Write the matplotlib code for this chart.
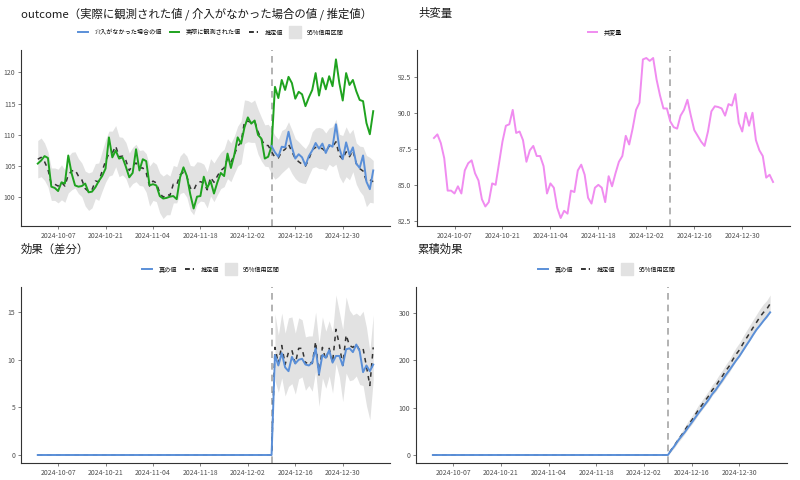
import numpy as np
import pandas as pd
import matplotlib
matplotlib.use("Agg")
import matplotlib.pyplot as plt
from matplotlib.lines import Line2D

plt.rcParams['font.family'] = ['Noto Sans CJK JP', 'DejaVu Sans']

# ---------------- data ----------------
start_date = "2024-10-01"
n_days = 100
intervention_date = "2024-12-09"

observed = [105.4, 105.9, 106.6, 106.3, 101.7, 101.5, 101.0, 102.4, 102.2, 106.7,
            103.8, 101.9, 101.7, 101.8, 102.2, 100.8, 100.9, 101.6, 102.6, 103.4,
            104.6, 109.6, 106.4, 107.5, 106.2, 106.4, 104.9, 103.2, 103.9, 107.7,
            104.3, 106.1, 105.8, 101.9, 102.1, 101.9, 100.2, 99.8, 99.9, 100.1,
            100.2, 99.7, 103.2, 104.8, 103.4, 100.5, 98.2, 100.1, 100.2, 103.3,
            101.5, 102.6, 100.6, 102.4, 103.9, 103.4, 107.0, 104.7, 106.8, 109.6,
            108.6, 111.2, 112.8, 111.8, 112.3, 110.0, 109.4, 106.2, 106.5, 108.2,
            117.7, 115.9, 118.8, 117.2, 119.3, 118.3, 115.8, 116.9, 116.5, 114.6,
            116.0, 117.2, 119.9, 116.3, 119.1, 117.3, 119.4, 117.8, 122.1, 118.3,
            115.5, 119.9, 118.0, 118.8, 117.0, 115.6, 115.4, 111.9, 110.1, 113.8]

# counterfactual (no intervention), from intervention date to end
counterfactual = [108.2, 107.2, 106.5, 108.1, 108.0, 110.5, 108.0, 106.2, 106.9, 106.4,
                  105.1, 106.6, 107.5, 108.7, 107.8, 108.6, 107.1, 108.4, 108.1, 111.7,
                  107.9, 106.1, 108.8, 106.8, 108.0, 105.4, 104.7, 106.7, 102.5, 101.3,
                  104.3]

estimate = [106.1, 106.4, 105.7, 104.5, 102.1, 102.1, 101.8, 102.4, 101.8, 103.6,
            104.2, 104.4, 103.4, 102.8, 101.4, 100.9, 101.2, 102.6, 102.5, 104.2,
            105.8, 107.0, 107.1, 108.2, 106.5, 106.6, 105.9, 104.3, 105.1, 105.5,
            104.7, 104.7, 103.9, 101.8, 102.6, 102.3, 100.7, 100.0, 100.5, 100.3,
            102.1, 102.0, 103.6, 104.0, 103.3, 101.5, 101.1, 102.3, 102.5, 102.3,
            101.2, 103.2, 102.4, 103.4, 104.3, 104.7, 106.2, 105.6, 106.8, 108.2,
            108.8, 112.1, 112.2, 112.0, 112.2, 110.5, 109.3, 108.3, 108.3, 107.3,
            106.4, 106.3, 107.3, 107.7, 108.5, 107.3, 106.2, 105.7, 105.3, 105.0,
            106.1, 107.6, 108.0, 107.9, 107.8, 107.3, 108.2, 108.1, 108.9, 106.7,
            106.1, 107.3, 106.5, 107.5, 105.4, 104.6, 104.2, 102.6, 102.8, 102.5]

ci_half = [3.0, 3.1, 3.0, 2.8, 2.6, 2.6, 2.7, 2.8, 2.6, 2.9,
           3.0, 2.9, 2.8, 2.7, 2.8, 3.0, 2.9, 2.8, 3.0, 3.2,
           3.4, 3.6, 3.5, 3.3, 3.2, 3.0, 2.9, 2.8, 2.9, 3.0,
           2.8, 2.9, 3.1, 3.2, 3.1, 3.0, 3.2, 3.4, 3.3, 3.1,
           3.0, 2.9, 3.0, 3.2, 3.3, 3.6, 3.9, 3.4, 3.1, 3.0,
           2.9, 3.0, 3.1, 3.0, 2.9, 3.0, 3.2, 3.1, 3.0, 3.2,
           3.4, 3.5, 3.3, 3.2, 3.4, 3.6, 3.5, 3.3, 3.4, 3.6,
           3.5, 3.0, 3.4, 3.3, 3.6, 3.5, 3.2, 3.2, 3.0, 2.8,
           2.6, 2.9, 3.1, 3.3, 3.2, 3.0, 2.9, 3.2, 3.6, 3.4,
           3.8, 4.0, 3.7, 3.4, 3.3, 3.6, 3.9, 4.1, 3.6, 3.4]

covariate = [88.25, 88.5, 87.9, 86.85, 84.6, 84.6, 84.4, 84.9, 84.4, 86.0,
             86.5, 86.7, 85.8, 85.3, 84.0, 83.5, 83.8, 85.1, 85.0, 86.5,
             88.0, 89.1, 89.2, 90.2, 88.6, 88.7, 88.1, 86.6, 87.4, 87.7,
             87.0, 87.0, 86.3, 84.4, 85.1, 84.8, 83.4, 82.7, 83.2, 83.0,
             84.6, 84.5, 86.0, 86.4, 85.7, 84.1, 83.7, 84.8, 85.0, 84.8,
             83.8, 85.6, 84.9, 85.8, 86.6, 87.0, 88.4, 87.8, 88.9, 90.2,
             90.7, 93.7, 93.8, 93.6, 93.8, 92.3, 91.2, 90.3, 90.3, 89.4,
             89.0, 88.9, 89.8, 90.2, 90.9, 89.8, 88.8, 88.4, 88.0, 87.7,
             88.7, 90.1, 90.45, 90.4, 90.3, 89.8, 90.6, 90.5, 91.3, 89.3,
             88.7, 90.0, 89.1, 90.0, 88.1, 87.4, 87.0, 85.5, 85.7, 85.2]

tick_dates = ["2024-10-07", "2024-10-21", "2024-11-04", "2024-11-18",
              "2024-12-02", "2024-12-16", "2024-12-30"]

# ---------------- derived ----------------
dates = pd.date_range(start_date, periods=n_days, freq="D")
t0 = pd.Timestamp(intervention_date)
i0 = int(np.where(dates == t0)[0][0])
obs = np.array(observed)
est = np.array(estimate)
half = np.array(ci_half)
cf = np.array(counterfactual)

post = np.arange(n_days) > i0
true_eff = np.zeros(n_days)
true_eff[i0:] = obs[i0:] - cf
est_eff = np.where(post, obs - est, 0.0)
eff_lo = obs - (est + half)
eff_hi = obs - (est - half)

true_cum = np.cumsum(true_eff)
est_cum = np.cumsum(est_eff)
cum_half = np.sqrt(np.cumsum(np.where(post, half ** 2, 0.0)))

# ---------------- style ----------------
BLUE = '#5a8fd8'
GREEN = '#1fa31f'
PINK = '#f08cf0'
DASH = '#333333'
BAND = '#e2e2e2'
VLINE = '#a6a6a6'

fig = plt.figure(figsize=(8, 4.8), dpi=100)
W, H = 800, 480


def make_ax(l, t, r, b):
    return fig.add_axes([l / W, 1 - b / H, (r - l) / W, (b - t) / H])


ax1 = make_ax(21, 50, 390, 226)
ax2 = make_ax(417, 50, 790, 226)
ax3 = make_ax(21, 287, 390, 463)
ax4 = make_ax(416, 287, 787, 463)

xt = pd.to_datetime(tick_dates)


def style(ax):
    for s in ['top', 'right']:
        ax.spines[s].set_visible(False)
    for s in ['left', 'bottom']:
        ax.spines[s].set_color('#333333')
        ax.spines[s].set_linewidth(0.8)
    ax.tick_params(axis='both', length=2, width=0.5, color='#4d4d4d',
                   labelsize=4.9, labelcolor='#4d4d4d', pad=2)
    ax.set_xticks(xt)
    ax.set_xticklabels([d.strftime('%Y-%m-%d') for d in xt])
    ax.margins(x=0.05)
    ax.axvline(t0, color=VLINE, lw=1.2, ls=(0, (4, 3)), zorder=1)


def box_handle():
    return Line2D([], [], marker='s', markersize=9, color=BAND, ls='none')


def legend(ax, handles, labels, x=0.515):
    ax.legend(handles, labels, loc='center', bbox_to_anchor=(x, 1.1),
              ncol=len(handles), frameon=False, fontsize=4.4,
              handlelength=1.5, handletextpad=1.1, columnspacing=1.3)


# panel 1
ax1.fill_between(dates, est - half, est + half, color=BAND, lw=0, zorder=0)
ax1.plot(dates, est, color=DASH, lw=1.1, ls=(0, (3, 3)), zorder=2)
ax1.plot(dates, obs, color=GREEN, lw=1.4, zorder=3)
ax1.plot(dates[i0:], cf, color=BLUE, lw=1.4, zorder=3)
style(ax1)
ax1.set_ylim(95.4, 123.6)
ax1.set_yticks([100, 105, 110, 115, 120])
legend(ax1,
       [Line2D([], [], color=BLUE, lw=1.4), Line2D([], [], color=GREEN, lw=1.4),
        Line2D([], [], color=DASH, lw=1.4, ls=(0, (2.5, 1.5))), box_handle()],
       ['介入がなかった場合の値', '実際に観測された値', '推定値', '95%信用区間'])

# panel 2
ax2.plot(dates, covariate, color=PINK, lw=1.4, zorder=3)
style(ax2)
ax2.set_yticks([82.5, 85.0, 87.5, 90.0, 92.5])
ax2.set_yticklabels(['82.5', '85.0', '87.5', '90.0', '92.5'])
legend(ax2, [Line2D([], [], color=PINK, lw=1.4)], ['共変量'], x=0.505)

# panel 3
ax3.fill_between(dates[post], eff_lo[post], eff_hi[post], color=BAND, lw=0, zorder=0)
ax3.plot(dates, est_eff, color=DASH, lw=1.1, ls=(0, (3, 3)), zorder=2)
ax3.plot(dates, true_eff, color=BLUE, lw=1.4, zorder=3)
style(ax3)
ax3.set_yticks([0, 5, 10, 15])
legend(ax3,
       [Line2D([], [], color=BLUE, lw=1.4),
        Line2D([], [], color=DASH, lw=1.4, ls=(0, (2.5, 1.5))), box_handle()],
       ['真の値', '推定値', '95%信用区間'])

# panel 4
ax4.fill_between(dates[i0:], (est_cum - cum_half)[i0:], (est_cum + cum_half)[i0:],
                 color=BAND, lw=0, zorder=0)
ax4.plot(dates, est_cum, color=DASH, lw=1.1, ls=(0, (3, 3)), zorder=2)
ax4.plot(dates, true_cum, color=BLUE, lw=1.4, zorder=3)
style(ax4)
ax4.set_yticks([0, 100, 200, 300])
legend(ax4,
       [Line2D([], [], color=BLUE, lw=1.4),
        Line2D([], [], color=DASH, lw=1.4, ls=(0, (2.5, 1.5))), box_handle()],
       ['真の値', '推定値', '95%信用区間'], x=0.515)

# titles
tkw = dict(fontsize=8.2, ha='left', va='center', color='#1a1a1a')
fig.text(21 / W, 1 - 14 / H, 'outcome（実際に観測された値 / 介入がなかった場合の値 / 推定値）', **tkw)
fig.text(418 / W, 1 - 14 / H, '共変量', **tkw)
fig.text(21 / W, 1 - 249 / H, '効果（差分）', **tkw)
fig.text(417 / W, 1 - 249 / H, '累積効果', **tkw)

fig.savefig('out.png', dpi=100, facecolor='white')
